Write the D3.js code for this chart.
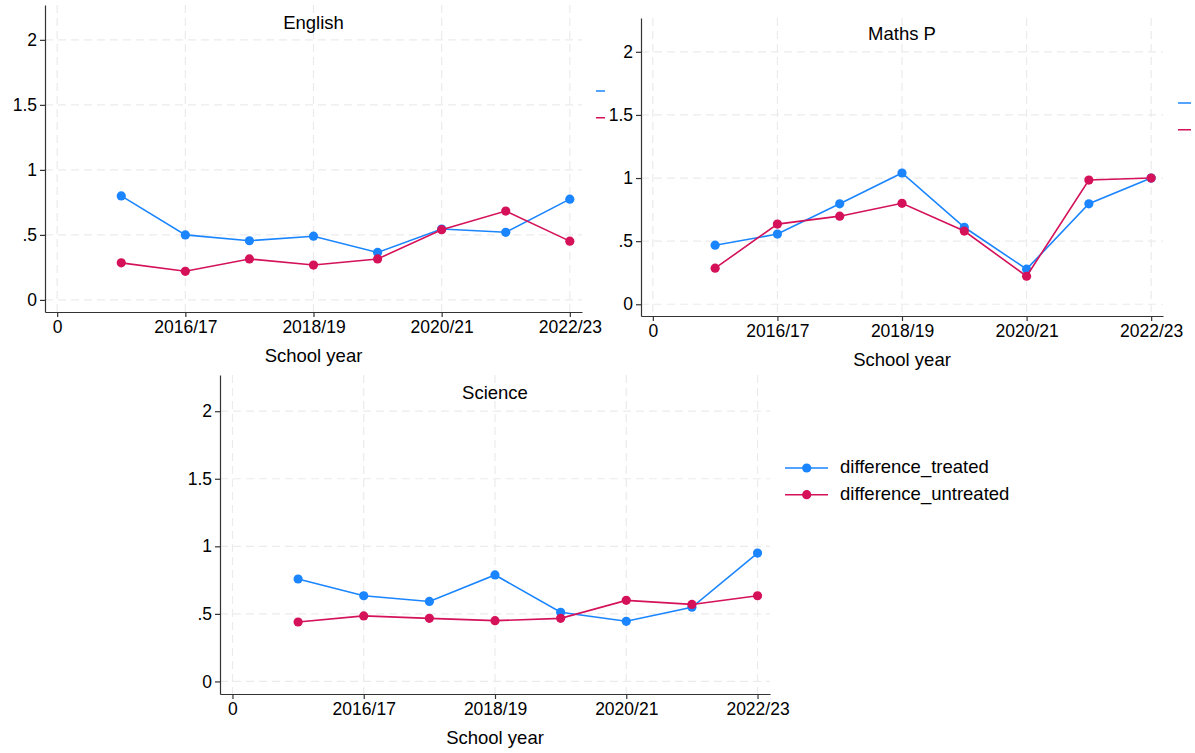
<!DOCTYPE html>
<html>
<head>
<meta charset="utf-8">
<script src="https://cdn.jsdelivr.net/npm/d3@7"></script>
<style>
  html, body { margin: 0; padding: 0; background: #fff; }
  svg { display: block; font-family: "Liberation Sans", Arial, Helvetica, sans-serif; }
</style>
</head>
<body>
<div id="chart"></div>
<script>
// ── Data ──────────────────────────────────────────────
// x positions 1..8 are school years; labels only on every second one
const xTickValues = [0, 2, 4, 6, 8];
const xTickLabels = ['0', '2016/17', '2018/19', '2020/21', '2022/23'];
const yTickValues = [0, 0.5, 1, 1.5, 2];
const yTickLabels = ['0', '.5', '1', '1.5', '2'];
const xIndex = [1, 2, 3, 4, 5, 6, 7, 8];

const englishTreated   = [0.80, 0.50, 0.455, 0.49, 0.365, 0.545, 0.52, 0.775];
const englishUntreated = [0.285, 0.22, 0.315, 0.268, 0.315, 0.54, 0.683, 0.452];
const mathsTreated     = [0.468, 0.556, 0.796, 1.04, 0.61, 0.278, 0.796, 1.0];
const mathsUntreated   = [0.286, 0.635, 0.698, 0.80, 0.58, 0.222, 0.984, 1.0];
const scienceTreated   = [0.758, 0.634, 0.592, 0.788, 0.512, 0.445, 0.549, 0.95];
const scienceUntreated = [0.44, 0.485, 0.467, 0.45, 0.467, 0.60, 0.57, 0.634];

const seriesNames  = ['difference_treated', 'difference_untreated'];
const seriesColors = ['#1a85ff', '#d41159'];

const W = 1195, H = 753;
const FONT_TICK = 17.5, FONT_TITLE = 18.5;

// panel frames (axis box in pixels) and the clip box of each sub-graph
const panels = [
    { title: 'English', series: [englishTreated, englishUntreated],
      box: { l: 45, r: 582, t: 5, b: 312 }, titleDy: 19, clip: { x: 0, y: 0, w: 605, h: 372 },
      legend: { x: 596, y: 91, full: false } },
    { title: 'Maths P', series: [mathsTreated, mathsUntreated],
      box: { l: 641, r: 1163, t: 18, b: 316 }, titleDy: 17, clip: { x: 606, y: 0, w: 585, h: 372 },
      legend: { x: 1178, y: 103, full: false } },
    { title: 'Science', series: [scienceTreated, scienceUntreated],
      box: { l: 220, r: 770, t: 375, b: 694 }, titleDy: 19, clip: { x: 150, y: 372, w: 1045, h: 381 },
      legend: { x: 785, y: 468, full: true } }
];

const svg = d3.select('#chart').append('svg')
    .attr('width', W).attr('height', H);

const defs = svg.append('defs');

panels.forEach((p, pi) => {
    defs.append('clipPath').attr('id', `clip-${pi}`)
        .append('rect')
        .attr('x', p.clip.x).attr('y', p.clip.y)
        .attr('width', p.clip.w).attr('height', p.clip.h);

    const g = svg.append('g').attr('clip-path', `url(#clip-${pi})`);
    const b = p.box;

    const x = d3.scaleLinear().domain([-0.19, 8.19]).range([b.l, b.r]);
    const y = d3.scaleLinear().domain([-0.093, 2.268]).range([b.b, b.t]);

    // ── Grid ──────────────────────────────────────────
    g.append('g').selectAll('line.hg')
        .data(yTickValues)
        .join('line')
        .attr('x1', b.l).attr('x2', b.r)
        .attr('y1', d => y(d)).attr('y2', d => y(d))
        .attr('stroke', '#ebebeb').attr('stroke-width', 1.2)
        .attr('stroke-dasharray', '8,5');

    g.append('g').selectAll('line.vg')
        .data(xTickValues)
        .join('line')
        .attr('x1', d => x(d)).attr('x2', d => x(d))
        .attr('y1', b.t).attr('y2', b.b)
        .attr('stroke', '#ebebeb').attr('stroke-width', 1.2)
        .attr('stroke-dasharray', '8,5');

    // ── Axes ──────────────────────────────────────────
    const yAxis = d3.axisLeft(y)
        .tickValues(yTickValues)
        .tickFormat((d, i) => yTickLabels[i])
        .tickSizeOuter(0).tickSizeInner(5).tickPadding(3);
    const yg = g.append('g').attr('transform', `translate(${b.l},0)`).call(yAxis);

    const xAxis = d3.axisBottom(x)
        .tickValues(xTickValues)
        .tickFormat((d, i) => xTickLabels[i])
        .tickSizeOuter(0).tickSizeInner(5).tickPadding(4);
    const xg = g.append('g').attr('transform', `translate(0,${b.b})`).call(xAxis);

    [yg, xg].forEach(ax => {
        ax.select('.domain').attr('stroke', '#333').attr('stroke-width', 1.2);
        ax.selectAll('.tick line').attr('stroke', '#333').attr('stroke-width', 1.2);
        ax.selectAll('.tick text')
            .attr('fill', '#000')
            .style('font-size', FONT_TICK + 'px')
            .style('font-family', '"Liberation Sans", Arial, Helvetica, sans-serif');
    });

    g.append('text')
        .attr('x', (b.l + b.r) / 2).attr('y', b.b + 45)
        .attr('text-anchor', 'middle').attr('dominant-baseline', 'middle')
        .style('font-size', FONT_TITLE + 'px')
        .text('School year');

    g.append('text')
        .attr('x', (b.l + b.r) / 2).attr('y', b.t + p.titleDy)
        .attr('text-anchor', 'middle').attr('dominant-baseline', 'middle')
        .style('font-size', FONT_TITLE + 'px')
        .text(p.title);

    // ── Series ────────────────────────────────────────
    const line = d3.line()
        .x((d, i) => x(xIndex[i]))
        .y(d => y(d));

    p.series.forEach((vals, si) => {
        const sg = g.append('g');
        sg.append('path')
            .datum(vals)
            .attr('d', line)
            .attr('fill', 'none')
            .attr('stroke', seriesColors[si])
            .attr('stroke-width', 1.6);
        sg.selectAll('circle')
            .data(vals)
            .join('circle')
            .attr('cx', (d, i) => x(xIndex[i]))
            .attr('cy', d => y(d))
            .attr('r', 4.6)
            .attr('fill', seriesColors[si]);
    });

    // ── Legend: the first two sit mostly outside their panel,
    //    only a sliver of the key line shows ──
    const lg = g.append('g').attr('transform', `translate(${p.legend.x},${p.legend.y})`);
    seriesNames.forEach((name, si) => {
        const row = lg.append('g').attr('transform', `translate(0,${si * 26.7})`);
        row.append('line')
            .attr('x1', 0).attr('x2', 43)
            .attr('stroke', seriesColors[si]).attr('stroke-width', 1.6);
        row.append('circle')
            .attr('cx', 21.7).attr('r', 4.6)
            .attr('fill', seriesColors[si]);
        if (p.legend.full) {
            row.append('text')
                .attr('x', 55).attr('dominant-baseline', 'middle')
                .style('font-size', FONT_TITLE + 'px')
                .text(name);
        }
    });
});
</script>
</body>
</html>
